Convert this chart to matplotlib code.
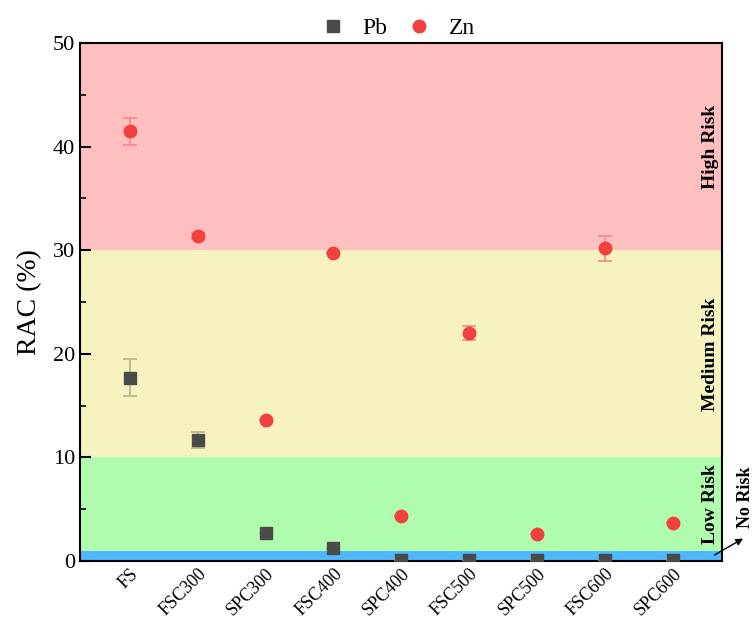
import numpy as np
import matplotlib
matplotlib.use('Agg')
import matplotlib.pyplot as plt
from matplotlib.ticker import MultipleLocator
from matplotlib.lines import Line2D

plt.rcParams['font.family'] = ['Liberation Serif', 'DejaVu Serif']

# Data
samples = ['FS', 'FSC300', 'SPC300', 'FSC400', 'SPC400', 'FSC500', 'SPC500', 'FSC600', 'SPC600']
pb = [17.7, 11.7, 2.7, 1.3, 0.1, 0.1, 0.1, 0.1, 0.1]
pb_err = [1.8, 0.8, 0.0, 0.0, 0.0, 0.0, 0.0, 0.0, 0.0]
zn = [41.5, 31.4, 13.6, 29.7, 4.3, 22.0, 2.6, 30.2, 3.7]
zn_err = [1.3, 0.3, 0.0, 0.0, 0.0, 0.7, 0.0, 1.2, 0.0]

# risk bands (lower, upper, colour, label)
band_low = [0, 1, 10, 30]
band_high = [1, 10, 30, 50]
band_colors = ['#50B8FF', '#B0FCAF', '#F7F3C0', '#FFBFBF']
band_labels = ['No Risk', 'Low Risk', 'Medium Risk', 'High Risk']

x = np.arange(1, len(samples) + 1)

fig = plt.figure(figsize=(7.54, 6.21), dpi=100)
ax = fig.add_axes([0.106, 0.0966, 0.852, 0.834])

for lo, hi, c in zip(band_low, band_high, band_colors):
    ax.axhspan(lo, hi, color=c, lw=0, zorder=0)

ax.errorbar(x, pb, yerr=pb_err, fmt='s', color='#4A4A4A', ms=9,
            ecolor='#B8B48A', elinewidth=1.2, capsize=5, capthick=1.2, zorder=3)
ax.errorbar(x, zn, yerr=zn_err, fmt='o', color='#F04040', ms=9,
            ecolor='#F08A8A', elinewidth=1.2, capsize=5, capthick=1.2, zorder=3)

ax.set_xlim(0.27, 9.72)
ax.set_ylim(0, 50)
ax.set_xticks(x)
ax.set_xticklabels(samples, rotation=45, ha='right', rotation_mode='anchor', fontsize=13)
ax.tick_params(axis='x', length=0, pad=3)
ax.yaxis.set_major_locator(MultipleLocator(10))
ax.yaxis.set_minor_locator(MultipleLocator(5))
ax.tick_params(axis='y', which='major', direction='in', length=8, width=1.5, labelsize=16)
ax.tick_params(axis='y', which='minor', direction='in', length=4, width=1.2)
ax.set_ylabel('RAC (%)', fontsize=20, labelpad=8)
for s in ax.spines.values():
    s.set_linewidth(1.5)

# risk labels
for lo, hi, lab in zip(band_low[1:], band_high[1:], band_labels[1:]):
    ax.text(9.54, (lo + hi) / 2, lab, rotation=90, ha='center', va='center',
            fontsize=14, fontweight='bold')
ax.annotate('', xy=(10.06, 2.3), xytext=(9.57, 0.45),
            arrowprops=dict(arrowstyle='-|>', color='black', lw=1), annotation_clip=False)
ax.text(10.06, 3.2, 'No Risk', rotation=90, ha='center', va='bottom',
        fontsize=13, fontweight='bold', clip_on=False)

handles = [Line2D([], [], ls='none', marker='s', color='#4A4A4A', ms=9),
           Line2D([], [], ls='none', marker='o', color='#F04040', ms=9)]
ax.legend(handles, ['Pb', 'Zn'], loc='lower center', bbox_to_anchor=(0.49, 0.985), ncol=2,
          frameon=False, fontsize=17, handletextpad=0.5, columnspacing=0.6,
          borderaxespad=0.1, handlelength=1.5)

fig.savefig('out.png', dpi=100)
